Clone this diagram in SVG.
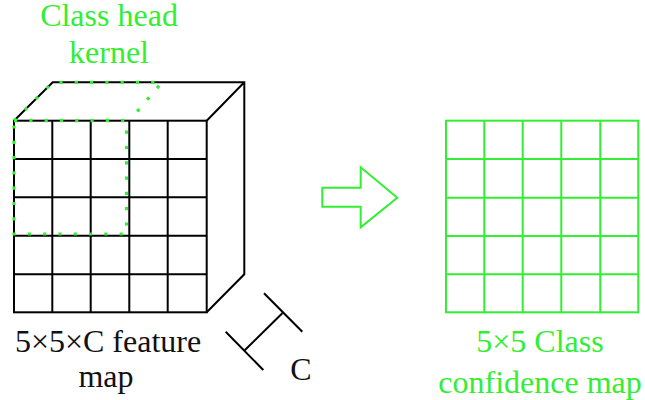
<svg xmlns="http://www.w3.org/2000/svg" width="645" height="400" viewBox="0 0 645 400">
  <style>
    .ink { fill: none; stroke: #000; stroke-width: 2; }
    .grn { fill: none; stroke: #33ee33; stroke-width: 2; }
    .dots { fill: none; stroke: #33ee33; stroke-width: 3.2; stroke-dasharray: 3.2 12.1; }
    text { font-family: "Times New Roman", "Liberation Serif", "DejaVu Serif", serif; font-size: 32px; text-anchor: middle; }
    .lbl-g { fill: #33ee33; }
    .lbl-k { fill: #111; }
  </style>
  <rect width="645" height="400" fill="#fff"/>

  <!-- 5x5xC feature map drawn as a cube -->
  <g id="feature-map">
    <path class="ink" d="M14,120.7 L52.7,82.3 L244.3,82.3 L244.3,274.3 L206.7,312.3 M206.7,120.7 L244.3,82.3"/>
    <rect class="ink" x="14" y="120.7" width="192.7" height="191.6"/>
    <path class="ink" d="M52.3,120.7 V312.3 M90.7,120.7 V312.3 M129.3,120.7 V312.3 M167.7,120.7 V312.3
                         M14,159 H206.7 M14,197.3 H206.7 M14,235.7 H206.7 M14,274.3 H206.7"/>
  </g>

  <!-- 3x3 class head kernel, dotted outline -->
  <g id="kernel">
    <path class="dots" d="M14,120.7 L52.7,82.3 L162,82.3 L129.3,120.7"/>
    <path class="dots" d="M14,120.7 H126.5 V234 H14 Z"/>
  </g>

  <!-- channel depth dimension bracket -->
  <g id="depth-bracket">
    <path class="ink" d="M264,293.3 L302.3,331.7 M225.7,331.7 L263.3,370 M282.3,313.3 L245,350"/>
  </g>

  <!-- block arrow -->
  <g id="arrow">
    <polygon class="grn" points="322.3,187.7 360.7,187.7 360.7,167.3 397.3,197.7 360.7,227.3 360.7,206.7 322.3,206.7"/>
  </g>

  <!-- 5x5 class confidence map -->
  <g id="confidence-map">
    <rect class="grn" x="446" y="120.7" width="192.3" height="191.6"/>
    <path class="grn" d="M484.3,120.7 V312.3 M522.7,120.7 V312.3 M561.3,120.7 V312.3 M600.3,120.7 V312.3
                         M446,159 H638.3 M446,197.7 H638.3 M446,236 H638.3 M446,274.3 H638.3"/>
  </g>

  <!-- labels -->
  <g id="labels">
    <text class="lbl-g" x="109" y="26" font-family="Liberation Serif">Class head</text>
    <text class="lbl-g" x="109" y="63" font-family="Liberation Serif">kernel</text>
    <text class="lbl-k" x="108" y="352" font-family="Liberation Serif">5×5×C feature</text>
    <text class="lbl-k" x="106" y="387" font-family="Liberation Serif">map</text>
    <text class="lbl-k" x="301" y="380" font-family="Liberation Serif">C</text>
    <text class="lbl-g" x="540" y="352" font-family="Liberation Serif">5×5 Class</text>
    <text class="lbl-g" x="540" y="393" font-family="Liberation Serif">confidence map</text>
  </g>
</svg>
